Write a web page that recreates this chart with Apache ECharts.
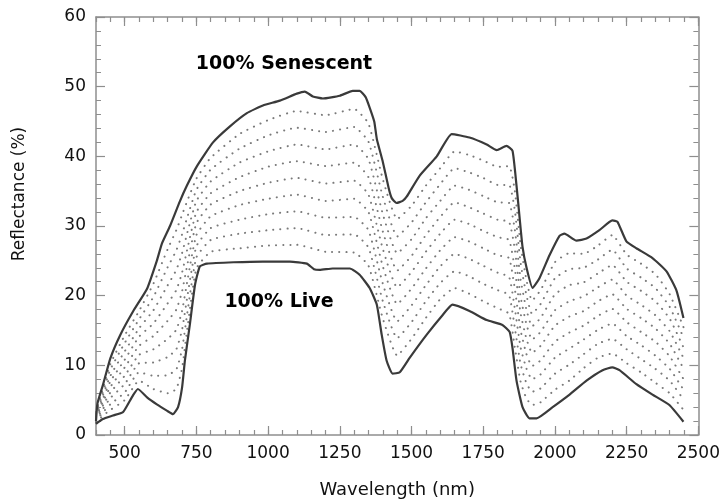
<!DOCTYPE html>
<html><head><meta charset="utf-8">
<script src="https://cdn.jsdelivr.net/npm/echarts@6.0.0/dist/echarts.min.js"></script>
<style>html,body{margin:0;padding:0;background:#fff}#c{width:723px;height:504px}</style>
</head><body><div id="c"></div>
<script>
// ---- data ----
const senescentWavelength = [400,405,425,450,485,530,578,612,630,658,692,717,752,808,867,926,982,1041,1100,1128,1156,1191,1250,1295,1319,1340,1354,1370,1379,1400,1420,1431,1448,1469,1483,1528,1588,1640,1702,1762,1797,1831,1852,1866,1877,1887,1901,1922,1946,1981,2016,2033,2075,2110,2155,2200,2218,2249,2284,2340,2389,2424,2448];
const senescent = [2.0,4.5,7.3,11.0,14.4,17.8,21.0,25.0,27.5,30.0,33.5,35.8,38.6,42.0,44.3,46.2,47.3,48.0,49.0,49.3,48.6,48.3,48.7,49.4,49.4,48.5,47.0,45.0,42.5,39.2,35.5,34.0,33.3,33.6,34.2,37.2,40.0,43.2,42.7,41.7,40.9,41.5,40.8,35.8,31.1,27.0,24.0,21.1,22.5,25.8,28.6,28.9,27.9,28.2,29.4,30.8,30.6,27.8,26.8,25.4,23.5,20.7,16.8];

const liveWavelength = [400,424,459,494,511,529,546,578,612,647,668,686,700,710,727,745,762,787,880,982,1076,1135,1160,1180,1225,1285,1319,1354,1379,1396,1413,1434,1459,1494,1553,1608,1643,1702,1762,1817,1842,1852,1866,1887,1911,1936,1992,2051,2110,2166,2200,2225,2284,2340,2399,2448];
const live = [1.6,2.3,2.8,3.3,4.4,5.7,6.6,5.4,4.4,3.5,3.0,4.0,6.8,10.7,15.8,21.5,24.2,24.6,24.8,24.9,24.9,24.6,23.8,23.7,23.9,23.9,23.0,21.1,18.7,14.4,10.7,8.8,9.0,11.1,14.4,17.2,18.7,17.8,16.5,15.8,14.8,12.5,7.8,4.0,2.4,2.4,4.0,5.8,7.8,9.3,9.7,9.3,7.3,5.8,4.3,1.9];

// dotted intermediate mixtures (10% ... 90% senescent)
const mixWavelength = [400,425,450,500,550,600,650,680,700,720,750,800,900,1000,1100,1200,1300,1350,1400,1450,1500,1550,1600,1650,1700,1750,1800,1840,1860,1880,1900,1920,1950,2000,2050,2100,2150,2200,2250,2300,2350,2400,2450];
const mix10 = [1.8,2.8,3.6,5.0,7.8,6.6,6.0,6.6,9.6,15.8,23.9,26.3,26.8,27.2,27.3,26.3,26.2,24.3,16.7,11.4,13.8,16.8,19.5,21.1,20.3,19.2,18.2,17.4,12.6,7.7,5.3,4.3,4.7,6.5,7.8,9.6,11.1,11.7,10.3,9.0,7.5,6.0,3.5];
const mix20 = [2.0,3.3,4.4,6.1,9.0,8.5,8.6,9.4,12.3,18.0,25.5,28.0,28.9,29.4,29.7,28.7,28.8,26.9,19.2,13.9,16.2,19.2,21.8,23.5,22.8,21.7,20.8,20.1,15.4,10.2,7.5,6.2,6.7,8.8,10.1,11.6,13.1,13.8,12.3,10.9,9.5,7.8,5.0];
const mix30 = [2.2,3.8,5.3,7.3,10.3,10.4,11.2,12.3,15.1,20.3,27.1,29.7,30.9,31.7,32.1,31.2,31.3,29.4,21.7,16.3,18.6,21.5,24.2,26.0,25.3,24.3,23.3,22.7,18.2,12.6,9.6,8.0,8.7,11.1,12.4,13.7,15.1,16.0,14.2,12.9,11.4,9.5,6.4];
const mix40 = [2.4,4.3,6.1,8.5,11.5,12.3,13.8,15.1,17.8,22.5,28.7,31.4,33.0,33.9,34.5,33.6,33.9,32.0,24.2,18.8,21.0,23.9,26.5,28.4,27.8,26.8,25.8,25.4,21.0,15.1,11.7,9.9,10.7,13.4,14.7,15.7,17.1,18.1,16.2,14.8,13.4,11.3,7.9];
const mix50 = [2.6,4.8,6.9,9.7,12.8,14.2,16.4,18.0,20.6,24.8,30.4,33.1,35.0,36.2,36.9,36.1,36.5,34.5,26.7,21.2,23.4,26.3,28.9,30.9,30.3,29.3,28.4,28.0,23.9,17.5,13.9,11.8,12.8,15.7,17.0,17.8,19.2,20.2,18.1,16.8,15.3,13.1,9.4];
const mix60 = [2.7,5.3,7.7,10.8,14.1,16.0,18.9,20.8,23.3,27.0,32.0,34.7,37.0,38.5,39.3,38.6,39.1,37.0,29.2,23.6,25.7,28.7,31.3,33.4,32.7,31.8,30.9,30.6,26.7,19.9,16.0,13.7,14.8,17.9,19.2,19.9,21.2,22.3,20.0,18.7,17.2,14.9,10.9];
const mix70 = [2.9,5.8,8.5,12.0,15.3,17.9,21.5,23.7,26.1,29.3,33.6,36.4,39.1,40.7,41.7,41.0,41.7,39.6,31.7,26.1,28.1,31.1,33.6,35.8,35.2,34.3,33.4,33.3,29.5,22.4,18.1,15.6,16.8,20.2,21.5,21.9,23.2,24.4,22.0,20.7,19.2,16.7,12.4];
const mix80 = [3.1,6.3,9.4,13.2,16.6,19.8,24.1,26.5,28.8,31.5,35.2,38.1,41.1,43.0,44.1,43.5,44.2,42.1,34.2,28.5,30.5,33.4,36.0,38.3,37.7,36.9,35.9,35.9,32.3,24.8,20.2,17.4,18.8,22.5,23.8,24.0,25.2,26.6,23.9,22.6,21.1,18.4,13.8];
const mix90 = [3.3,6.8,10.2,14.3,17.8,21.7,26.7,29.4,31.6,33.8,36.8,39.8,43.2,45.2,46.5,45.9,46.8,44.7,36.7,31.0,32.9,35.8,38.3,40.7,40.2,39.4,38.5,38.6,35.1,27.3,22.4,19.3,20.8,24.8,26.1,26.0,27.2,28.7,25.9,24.6,23.1,20.2,15.3];

// tick labels / positions
const xMajorTicks = [500,750,1000,1250,1500,1750,2000,2250,2500];
const xMinorTicks = [400,450,500,550,600,650,700,750,800,850,900,950,1000,1050,1100,1150,1200,1250,1300,1350,1400,1450,1500,1550,1600,1650,1700,1750,1800,1850,1900,1950,2000,2050,2100,2150,2200,2250,2300,2350,2400,2450,2500];
const yTicks = [0,10,20,30,40,50,60];

const labelSenescent = '100% Senescent';
const labelLive = '100% Live';
const xTitle = 'Wavelength (nm)';
const yTitle = 'Reflectance (%)';

// ---- chart ----
const FONT = 'DejaVu Sans';
const GREY = '#8e8e8e';
const pairs = (xs, ys) => xs.map((x, i) => [x, ys[i]]);
const plain = v => String(v);

function xAxisCfg(pos, ticks, len, showLabel, showLine) {
  return {
    type: 'value', position: pos, min: 400, max: 2500,
    axisLine: { show: showLine, onZero: false, lineStyle: { color: GREY, width: 1.5 } },
    axisTick: { show: true, inside: true, length: len, customValues: ticks, lineStyle: { color: GREY, width: 1.2 } },
    axisLabel: { show: showLabel, customValues: xMajorTicks, formatter: plain, margin: 10, color: '#111', fontSize: 17, fontFamily: FONT },
    splitLine: { show: false }
  };
}
function yAxisCfg(pos, showLabel) {
  return {
    type: 'value', position: pos, min: yTicks[0], max: yTicks[yTicks.length - 1], interval: 10,
    axisLine: { show: true, onZero: false, lineStyle: { color: GREY, width: 1.5 } },
    axisTick: { show: true, inside: true, length: 9, lineStyle: { color: GREY, width: 1.2 } },
    minorTick: { show: true, splitNumber: 5, length: 5, lineStyle: { color: GREY, width: 1 } },
    axisLabel: { show: showLabel, formatter: plain, margin: 10, color: '#111', fontSize: 17, fontFamily: FONT },
    splitLine: { show: false }, minorSplitLine: { show: false }
  };
}

const mixes = [mix10, mix20, mix30, mix40, mix50, mix60, mix70, mix80, mix90];
const series = mixes.map((m, i) => ({
  type: 'line', name: 'mix' + (i + 1) * 10, data: pairs(mixWavelength, m),
  xAxisIndex: 0, yAxisIndex: 0, showSymbol: false, silent: true, smooth: 0.15,
  lineStyle: { color: '#7a7a7a', width: 2, type: [0.1, 7], cap: 'round' }
}));
series.push({
  type: 'line', name: 'senescent', data: pairs(senescentWavelength, senescent),
  xAxisIndex: 0, yAxisIndex: 0, showSymbol: false, silent: true, smooth: 0.15,
  lineStyle: { color: '#3a3a3a', width: 2.2 }
});
series.push({
  type: 'line', name: 'live', data: pairs(liveWavelength, live),
  xAxisIndex: 0, yAxisIndex: 0, showSymbol: false, silent: true, smooth: 0.15,
  lineStyle: { color: '#3a3a3a', width: 2.2 }
});

const chart = echarts.init(document.getElementById('c'), null, { renderer: 'canvas' });
chart.setOption({
  animation: false,
  backgroundColor: '#fff',
  grid: { left: 96, right: 24, top: 17, bottom: 66 },
  xAxis: [
    Object.assign(xAxisCfg('bottom', xMajorTicks, 9, true, true), {
      name: xTitle, nameLocation: 'middle', nameGap: 46,
      nameTextStyle: { fontSize: 18, fontFamily: FONT, color: '#111' }
    }),
    xAxisCfg('bottom', xMinorTicks, 5, false, false),
    xAxisCfg('top', xMajorTicks, 9, false, true),
    xAxisCfg('top', xMinorTicks, 5, false, false)
  ],
  yAxis: [yAxisCfg('left', true), yAxisCfg('right', false)],
  series: series,
  graphic: [
    { type: 'text', x: 284, y: 64, style: { text: labelSenescent, font: 'bold 19px "DejaVu Sans"', fill: '#000', align: 'center', verticalAlign: 'middle' } },
    { type: 'text', x: 279, y: 302, style: { text: labelLive, font: 'bold 19px "DejaVu Sans"', fill: '#000', align: 'center', verticalAlign: 'middle' } },
    { type: 'text', x: 20, y: 194, rotation: Math.PI / 2, style: { text: yTitle, font: '17px "DejaVu Sans"', fill: '#111', align: 'center', verticalAlign: 'middle' } }
  ]
});
</script>
</body></html>
